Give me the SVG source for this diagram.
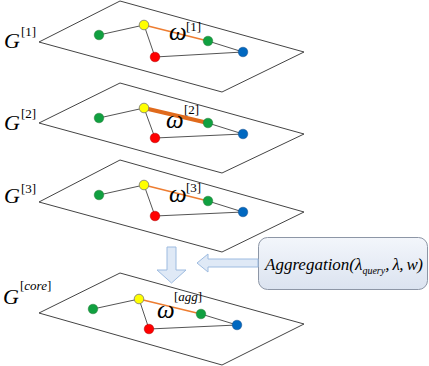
<svg xmlns="http://www.w3.org/2000/svg" width="429" height="366" viewBox="0 0 429 366">
<defs>
<linearGradient id="boxg" x1="0" y1="0" x2="0" y2="1">
<stop offset="0" stop-color="#f3f6fb"/>
<stop offset="1" stop-color="#dbe3f0"/>
</linearGradient>
<style>
.plane{fill:#fff;stroke:#444;stroke-width:1}
.e{stroke:#555;stroke-width:1;fill:none}
.o{stroke:#ed7d31;stroke-width:1.5;fill:none}
.ot{stroke:#e06a1c;stroke-width:4;fill:none}
.g{fill:#10a040;stroke:#2a7a3a;stroke-width:0.5}
.y{fill:#ffff00;stroke:#777;stroke-width:0.8}
.r{fill:#ff0000;stroke:#a00;stroke-width:0.5}
.b{fill:#0068c0;stroke:#1a4f8a;stroke-width:0.5}
text{font-family:'Liberation Serif','Times New Roman','DejaVu Serif',serif;fill:#000}
.lab{font-size:22px;font-style:italic}
.sup{font-size:13px}
.om{font-style:italic;font-size:25px}
.it{font-style:italic}
.arr{fill:#dfe9f6;stroke:#9dbbe0;stroke-width:1}
</style>
</defs>
<rect width="429" height="366" fill="#fff"/>

<g id="plane1">
<polygon class="plane" points="39,42 120,1 304,52 222,92"/>
<line class="e" x1="99" y1="35" x2="144" y2="25"/>
<line class="o" x1="144" y1="25" x2="208" y2="41"/>
<line class="e" x1="208" y1="41" x2="243" y2="52"/>
<line class="e" x1="144" y1="25" x2="155" y2="57"/>
<line class="e" x1="155" y1="57" x2="243" y2="52"/>
<circle class="g" cx="99" cy="35" r="4.8"/>
<circle class="y" cx="144" cy="25" r="4.8"/>
<circle class="g" cx="208" cy="41" r="4.8"/>
<circle class="b" cx="243" cy="52" r="4.8"/>
<circle class="r" cx="155" cy="57" r="4.8"/>
<text class="lab" x="4" y="48">G</text>
<text class="sup" x="21" y="36">[1]</text>
<text class="om" x="169" y="40">ω</text>
<text class="sup" x="186" y="31">[1]</text>
</g>

<g id="plane2">
<polygon class="plane" points="39,123 120,83 304,134 222,173"/>
<line class="e" x1="99" y1="118" x2="144" y2="108"/>
<line class="ot" x1="144" y1="108" x2="208" y2="123"/>
<line class="e" x1="208" y1="123" x2="243" y2="134"/>
<line class="e" x1="144" y1="108" x2="155" y2="138"/>
<line class="e" x1="155" y1="138" x2="243" y2="134"/>
<circle class="g" cx="99" cy="118" r="4.8"/>
<circle class="y" cx="144" cy="108" r="4.8"/>
<circle class="g" cx="208" cy="123" r="4.8"/>
<circle class="b" cx="243" cy="134" r="4.8"/>
<circle class="r" cx="155" cy="138" r="4.8"/>
<text class="lab" x="4" y="130">G</text>
<text class="sup" x="21" y="118">[2]</text>
<text class="om" x="166" y="128">ω</text>
<text class="sup" x="184" y="114">[2]</text>
</g>

<g id="plane3">
<polygon class="plane" points="39,202 120,160 304,212 222,252"/>
<line class="e" x1="99" y1="195" x2="144" y2="185"/>
<line class="o" x1="144" y1="185" x2="208" y2="201"/>
<line class="e" x1="208" y1="201" x2="243" y2="212"/>
<line class="e" x1="144" y1="185" x2="155" y2="216"/>
<line class="e" x1="155" y1="216" x2="243" y2="212"/>
<circle class="g" cx="99" cy="195" r="4.8"/>
<circle class="y" cx="144" cy="185" r="4.8"/>
<circle class="g" cx="208" cy="201" r="4.8"/>
<circle class="b" cx="243" cy="212" r="4.8"/>
<circle class="r" cx="155" cy="216" r="4.8"/>
<text class="lab" x="4" y="203">G</text>
<text class="sup" x="21" y="193">[3]</text>
<text class="om" x="169" y="202">ω</text>
<text class="sup" x="186" y="192">[3]</text>
</g>

<g id="planecore">
<polygon class="plane" points="39,313 120,273 304,324 222,365"/>
<line class="e" x1="93" y1="309" x2="139" y2="299"/>
<line class="o" x1="139" y1="299" x2="201" y2="314"/>
<line class="e" x1="201" y1="314" x2="237" y2="325"/>
<line class="e" x1="139" y1="299" x2="149" y2="329"/>
<line class="e" x1="149" y1="329" x2="237" y2="325"/>
<circle class="g" cx="93" cy="309" r="4.8"/>
<circle class="y" cx="139" cy="299" r="4.8"/>
<circle class="g" cx="201" cy="314" r="4.8"/>
<circle class="b" cx="237" cy="325" r="4.8"/>
<circle class="r" cx="149" cy="329" r="4.8"/>
<text class="lab" x="3" y="304">G</text>
<text class="sup" x="20" y="290">[<tspan class="it">core</tspan>]</text>
<text class="om" x="157" y="318">ω</text>
<text class="sup" x="174" y="301">[<tspan class="it">agg</tspan>]</text>
</g>

<g id="aggregation">
<rect x="258.5" y="237.5" width="169" height="52" rx="9" fill="url(#boxg)" stroke="#8d96a6" stroke-width="1"/>
<text class="it" x="265" y="270" font-size="17">Aggregation(λ<tspan font-size="10" dy="4">query</tspan><tspan dy="-4" letter-spacing="-0.6">, λ, w)</tspan></text>
</g>

<g id="connectors">
<polygon class="arr" points="167,247 176,247 176,270 186,270 171.5,283 157,270 167,270"/>
<polygon class="arr" points="258,259 208,259 208,254 197,263 208,272 208,267 258,267"/>
</g>
</svg>
